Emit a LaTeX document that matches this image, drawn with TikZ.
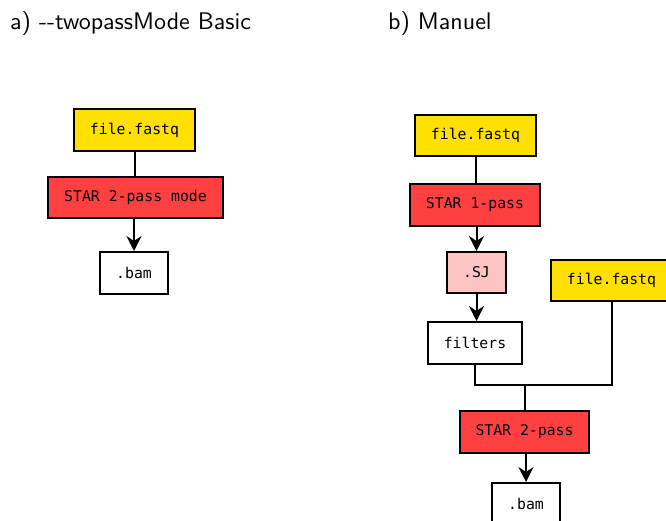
\documentclass[tikz,border=0pt]{standalone}
\usepackage{fontspec}
\setmonofont{DejaVu Sans Mono}
\newfontfamily\ttlfont[Extension=.otf]{lmsans10-regular}
\usetikzlibrary{arrows.meta}
\definecolor{fqyellow}{RGB}{255,224,0}
\definecolor{starred}{RGB}{255,64,64}
\definecolor{sjpink}{RGB}{255,196,196}
\tikzset{
  box/.style={draw=black, line width=2pt, inner sep=0pt, font=\fontsize{14.8}{16}\selectfont\ttfamily, anchor=center},
  conn/.style={line width=2pt},
  arr/.style={line width=2pt, -{Stealth[length=15pt,width=15pt,inset=5pt]}},
  ttl/.style={font=\fontsize{24}{28}\selectfont\ttlfont, anchor=base west, inner sep=0pt}
}
\begin{document}
\begin{tikzpicture}[x=1pt,y=-1pt]
\useasboundingbox (0,0) rectangle (666,521);
\clip (0,0) rectangle (666,521);
\fill[white] (0,0) rectangle (666,521);
\node[ttl] (ta) at (10,30) {a) -{}-twopassMode Basic};
\node[ttl] (tb) at (388,30) {b) Manuel};
% left
\node[box, fill=fqyellow, minimum width=121pt, minimum height=42pt] (fq1) at (134.5,130) {file.fastq};
\node[box, fill=starred, minimum width=175pt, minimum height=41pt] (s2m) at (135.5,197.5) {STAR 2-pass mode};
\node[box, fill=white, minimum width=68pt, minimum height=42pt] (bam1) at (134,273) {.bam};
\draw[conn] (fq1.south) -- (s2m.north -| fq1.south);
\draw[arr] (s2m.south -| bam1.north) -- (bam1.north);
% right
\node[box, fill=fqyellow, minimum width=121pt, minimum height=41pt] (fq2) at (475.5,135.5) {file.fastq};
\node[box, fill=starred, minimum width=130pt, minimum height=42pt] (s1) at (475,205) {STAR 1-pass};
\node[box, fill=sjpink, minimum width=59pt, minimum height=41pt] (sj) at (476.5,272.5) {.SJ};
\node[box, fill=white, minimum width=94pt, minimum height=42pt] (filt) at (475,343) {filters};
\node[box, fill=fqyellow, minimum width=121pt, minimum height=41pt] (fq3) at (611.5,280.5) {file.fastq};
\node[box, fill=starred, minimum width=129pt, minimum height=42pt] (s2) at (524.5,432) {STAR 2-pass};
\node[box, fill=white, minimum width=68pt, minimum height=42pt] (bam2) at (526,504) {.bam};
\coordinate (j) at (525,385);
\draw[conn] (fq2.south) -- (s1.north -| fq2.south);
\draw[arr] (s1.south -| sj.north) -- (sj.north);
\draw[arr] (sj.south) -- (sj.south |- filt.north);
\draw[conn] (filt.south) |- (j) -| (fq3.south);
\draw[conn] (j) -- (j |- s2.north);
\draw[arr] (s2.south -| bam2.north) -- (bam2.north);
\end{tikzpicture}
\end{document}
